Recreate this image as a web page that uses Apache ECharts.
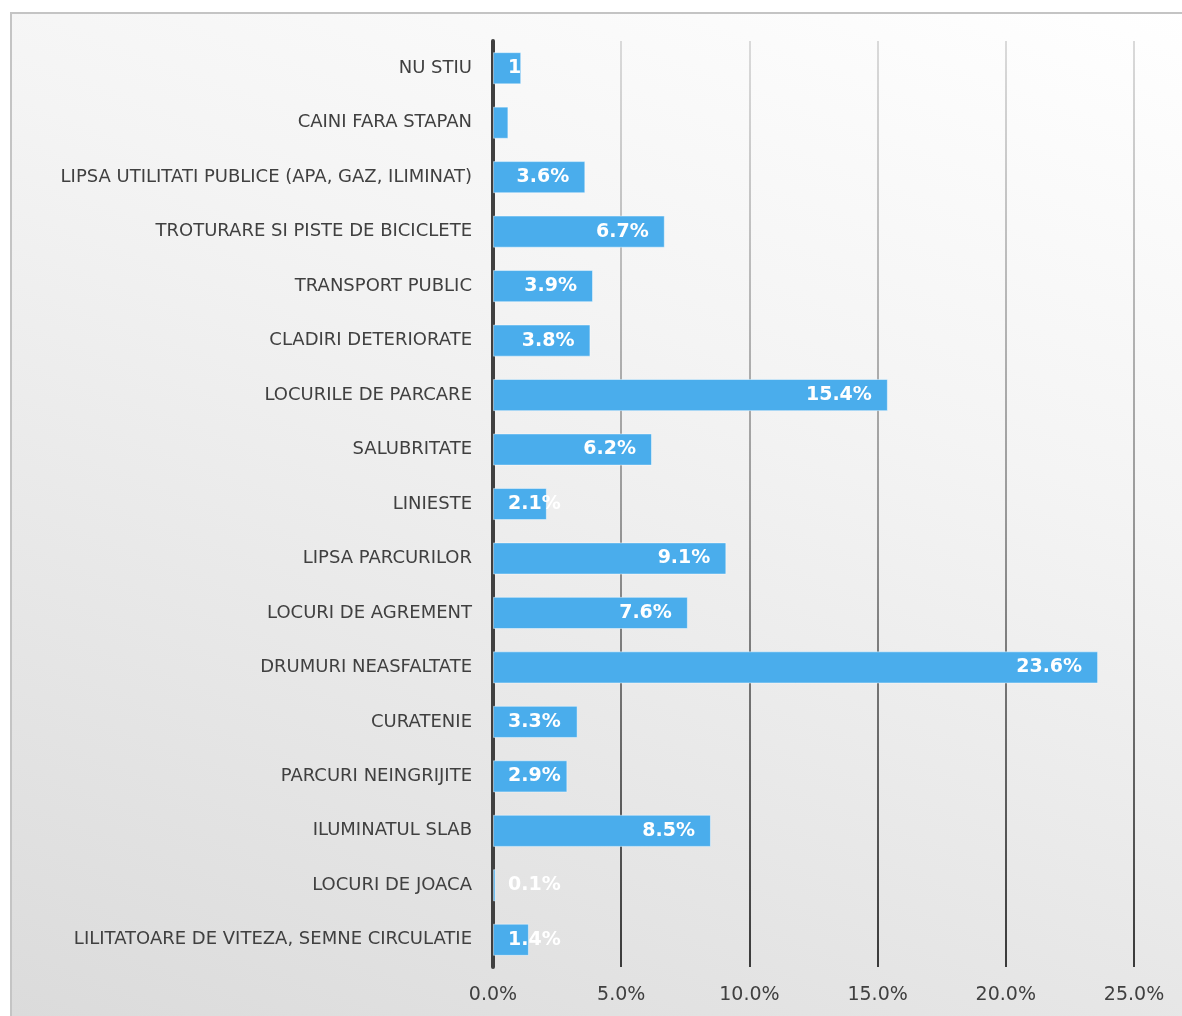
<!DOCTYPE html>
<html>
<head>
<meta charset="utf-8">
<script src="https://cdn.jsdelivr.net/npm/echarts@6/dist/echarts.min.js"></script>
<style>
html,body{margin:0;padding:0;width:1182px;height:1016px;overflow:hidden;background:#fff;}
#frame{position:absolute;left:10px;top:12px;width:1200px;height:1040px;border-left:2px solid #c4c4c4;border-top:2px solid #c4c4c4;background:linear-gradient(200deg,#ffffff 0%,#f4f4f4 35%,#e6e6e6 70%,#dadada 100%);}
#chart{position:absolute;left:0;top:0;width:1182px;height:1016px;}
</style>
</head>
<body>
<div id="frame"></div>
<div id="chart"></div>
<script>
const categories = [
  "NU STIU",
  "CAINI FARA STAPAN",
  "LIPSA UTILITATI PUBLICE (APA, GAZ, ILIMINAT)",
  "TROTURARE SI PISTE DE BICICLETE",
  "TRANSPORT PUBLIC",
  "CLADIRI DETERIORATE",
  "LOCURILE DE PARCARE",
  "SALUBRITATE",
  "LINIESTE",
  "LIPSA PARCURILOR",
  "LOCURI DE AGREMENT",
  "DRUMURI NEASFALTATE",
  "CURATENIE",
  "PARCURI NEINGRIJITE",
  "ILUMINATUL SLAB",
  "LOCURI DE JOACA",
  "LILITATOARE DE VITEZA, SEMNE CIRCULATIE"
];
const values = [1.1, 0.6, 3.6, 6.7, 3.9, 3.8, 15.4, 6.2, 2.1, 9.1, 7.6, 23.6, 3.3, 2.9, 8.5, 0.1, 1.4];
const labelTexts = ["1", "", "3.6%", "6.7%", "3.9%", "3.8%", "15.4%", "6.2%", "2.1%", "9.1%", "7.6%", "23.6%", "3.3%", "2.9%", "8.5%", "0.1%", "1.4%"];
const xTicks = { min: 0, max: 25, interval: 5 };

const FONT = "'DejaVu Sans', sans-serif";
const chart = echarts.init(document.getElementById('chart'));

const seriesData = values.map(function (v, i) {
  const small = v < 3.4;
  return {
    value: v,
    label: {
      show: labelTexts[i] !== "",
      formatter: labelTexts[i],
      position: small ? 'insideLeft' : 'insideRight',
      distance: small ? 15 : 16
    }
  };
});

chart.setOption({
  animation: false,
  backgroundColor: 'transparent',
  grid: { left: 493, right: 48, top: 41, bottom: 49, containLabel: false },
  xAxis: {
    type: 'value',
    min: xTicks.min, max: xTicks.max, interval: xTicks.interval,
    axisLine: { show: false },
    axisTick: { show: false },
    axisLabel: {
      margin: 19,
      color: '#404040',
      fontSize: 19,
      fontFamily: FONT,
      formatter: function (v) { return v.toFixed(1) + '%'; }
    },
    splitLine: {
      show: true,
      lineStyle: {
        width: 2,
        color: {
          type: 'linear', x: 0, y: 41, x2: 0, y2: 967, global: true,
          colorStops: [
            { offset: 0, color: '#dadada' },
            { offset: 0.5, color: '#9a9a9a' },
            { offset: 1, color: '#3a3a3a' }
          ]
        }
      }
    }
  },
  yAxis: {
    type: 'category',
    data: categories,
    inverse: true,
    axisLine: { show: true, lineStyle: { color: '#404040', width: 4 } },
    axisTick: { show: false },
    axisLabel: {
      margin: 21,
      color: '#404040',
      fontSize: 18,
      fontFamily: FONT
    }
  },
  series: [{
    type: 'bar',
    data: seriesData,
    barCategoryGap: '41%',
    itemStyle: { color: '#4aadec', borderColor: 'rgba(255,255,255,0.45)', borderWidth: 1 },
    label: {
      show: true,
      color: '#ffffff',
      fontSize: 19,
      fontWeight: 'bold',
      fontFamily: FONT
    }
  }]
});
</script>
</body>
</html>
